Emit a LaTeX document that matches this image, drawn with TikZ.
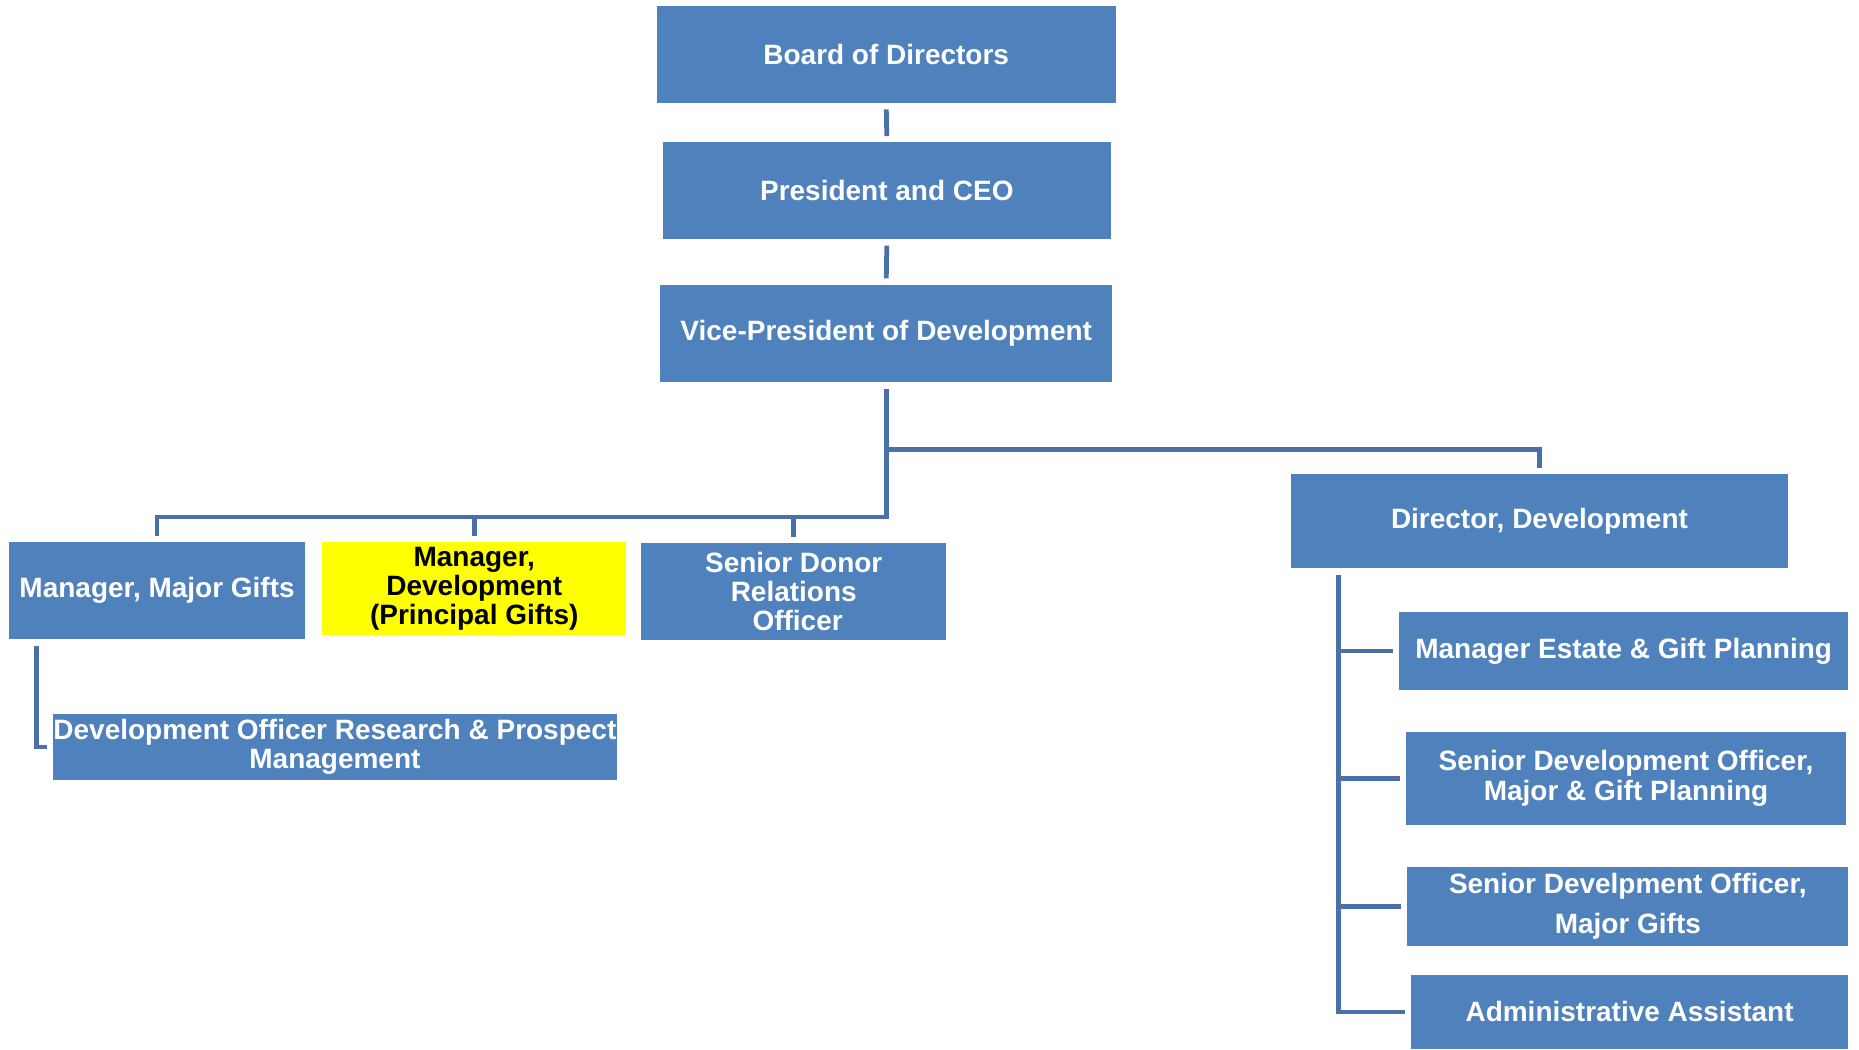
\documentclass[tikz,border=0pt]{standalone}
\usepackage{fontspec}
\setmainfont{Liberation Sans}
\usepackage{tikz}

\definecolor{boxblue}{HTML}{4F81BD}
\definecolor{lineblue}{HTML}{4A70A8}
\definecolor{hiyellow}{HTML}{FFFF00}
\tikzset{
  box/.style={fill=boxblue, text=white, font=\bfseries\fontsize{23.6}{24.5}\selectfont, align=center, inner sep=0pt},
  link/.style={draw=lineblue, line width=4pt}
}

\begin{document}
\begin{tikzpicture}[x=1pt,y=-1pt]
\useasboundingbox (0,0) rectangle (1568,885);

\node[box, minimum width=387pt, minimum height=82pt] (board) at (747.5,46) {Board of Directors};
\node[box, minimum width=378pt, minimum height=82pt] (pres) at (748,161) {President and CEO};
\node[box, minimum width=381pt, minimum height=82pt] (vp) at (747.5,281) {Vice-President of Development};

\node[box, fill=boxblue, minimum width=249pt, minimum height=82pt] (mmg) at (132.5,498) {Manager, Major Gifts};
\node[box, fill=hiyellow, text=black, minimum width=256pt, minimum height=79pt] (mdp) at (400,496.5) {Manager,\\Development\\(Principal Gifts)};
\node[box, minimum width=257pt, minimum height=82pt] (sdr) at (669.5,499) {Senior Donor\\Relations\\\ Officer};
\node[box, minimum width=475pt, minimum height=56pt] (dor) at (282.5,630) {Development Officer Research \& Prospect\\Management};

\node[box, minimum width=419pt, minimum height=79pt] (dir) at (1298.5,439.5) {Director, Development};
\node[box, minimum width=379pt, minimum height=66pt] (mep) at (1369.5,549) {Manager Estate \& Gift Planning};
\node[box, minimum width=371pt, minimum height=79pt] (sdo) at (1371.5,656.5) {Senior Development Officer,\\Major \& Gift Planning};
\node[box, minimum width=372pt, minimum height=67pt] (sdm) at (1373,764.5) {Senior Develpment Officer,\\[9pt]Major Gifts};
\node[box, minimum width=369pt, minimum height=63pt] (adm) at (1374.5,853.5) {Administrative Assistant};

% top of the chart
\draw[link, shorten <=5pt, shorten >=5pt] (board.south) -- (pres.north);
\draw[link, shorten <=5pt, shorten >=5pt] (pres.south) -- (vp.north);

% vp to the managers
\coordinate (bar) at (0,436);
\coordinate (rbar) at (0,379);
\draw[link, shorten <=6pt] (vp.south) -- (vp.south |- bar) -| ([yshift=5pt]mmg.north);
\draw[link] (mdp.north |- bar) -- ([yshift=5pt]mdp.north);
\draw[link] (sdr.north |- bar) -- ([yshift=5pt]sdr.north);
\draw[link] (vp.south |- rbar) -| ([yshift=5pt]dir.north);

% under manager, major gifts
\draw[link] ([xshift=23pt,yshift=-6pt]mmg.south west) |- ([xshift=-5pt]dor.west);

% under director
\coordinate (spine) at ([xshift=40pt,yshift=-6pt]dir.south west);
\draw[link] (spine) |- ([xshift=-5pt]adm.west);
\foreach \n in {mep,sdo,sdm}
  \draw[link] (spine |- \n.west) -- ([xshift=-5pt]\n.west);
\end{tikzpicture}
\end{document}
